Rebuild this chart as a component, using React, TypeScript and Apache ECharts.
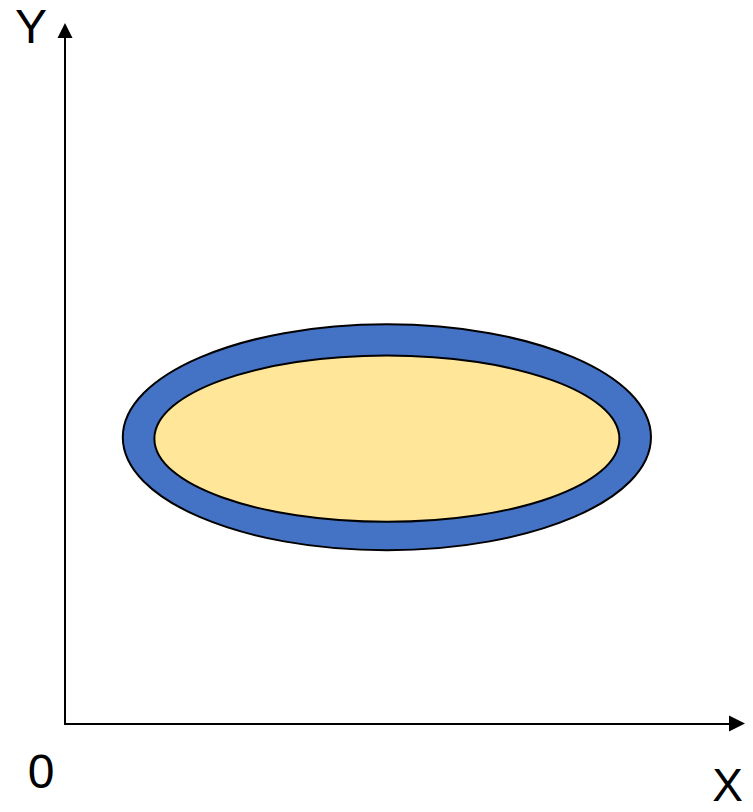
import React, { useEffect, useRef } from "react";
import * as echarts from "echarts";

// Axis ranges (arbitrary units)
const xRange = [0, 100];
const yRange = [0, 100];

// Ellipses: [centerX, centerY, radiusX, radiusY]
const ellipseNames = ["outer", "inner"];
const ellipseCenterX = [47.9, 47.9];
const ellipseCenterY = [41.3, 41.1];
const ellipseRadiusX = [39.3, 34.6];
const ellipseRadiusY = [16.3, 12.0];
const ellipseColors = ["#4472C4", "#FFE699"];

// Text labels
const xLabel = "X";
const yLabel = "Y";
const originLabel = "0";

export default function App() {
  const ref = useRef<HTMLDivElement>(null);

  useEffect(() => {
    if (!ref.current) return;
    const chart = echarts.init(ref.current, undefined, { renderer: "svg" });

    const data = ellipseNames.map((n, i) => ({
      name: n,
      value: [ellipseCenterX[i], ellipseCenterY[i], ellipseRadiusX[i], ellipseRadiusY[i], i],
    }));

    const axisCommon = {
      type: "value" as const,
      axisTick: { show: false },
      axisLabel: { show: false },
      splitLine: { show: false },
    };

    const font = "'Liberation Sans', Arial, sans-serif";
    const textStyle = (text: string, size: number) => ({
      text,
      font: `${size}px ${font}`,
      lineHeight: 38,
      fill: "#000000",
      align: "center",
      verticalAlign: "middle",
    });

    chart.setOption({
      animation: false,
      backgroundColor: "#ffffff",
      grid: {
        left: 65,
        right: 16,
        top: 30.5,
        bottom: 88.5,
        containLabel: false,
        outerBoundsMode: "none",
      },
      xAxis: {
        ...axisCommon,
        min: xRange[0],
        max: xRange[1],
        axisLine: {
          show: true,
          symbol: ["none", "triangle"],
          symbolSize: [16, 16],
          lineStyle: { color: "#000000", width: 2, cap: "square" },
        },
      },
      yAxis: {
        ...axisCommon,
        min: yRange[0],
        max: yRange[1],
        axisLine: {
          show: true,
          onZero: false,
          symbol: ["none", "triangle"],
          symbolSize: [15, 15],
          lineStyle: { color: "#000000", width: 2, cap: "square" },
        },
      },
      series: [
        {
          type: "custom",
          coordinateSystem: "cartesian2d",
          data,
          silent: true,
          renderItem: (params: any, api: any) => {
            const c = api.coord([api.value(0), api.value(1)]);
            const s = api.size([api.value(2), api.value(3)]);
            const idx = api.value(4);
            return {
              type: "ellipse",
              shape: { cx: c[0], cy: c[1], rx: s[0], ry: s[1] },
              style: {
                fill: ellipseColors[idx],
                stroke: "#000000",
                lineWidth: 2,
              },
            };
          },
        },
      ],
      graphic: [
        { type: "text", x: 31, y: 26, style: textStyle(yLabel, 48) },
        { type: "text", x: 41, y: 771, style: textStyle(originLabel, 48) },
        { type: "text", x: 727.5, y: 785, style: textStyle(xLabel, 46) },
      ],
    });

    return () => chart.dispose();
  }, []);

  return (
    <div
      ref={ref}
      style={{ position: "fixed", left: 0, top: 0, width: 753, height: 812 }}
    />
  );
}
